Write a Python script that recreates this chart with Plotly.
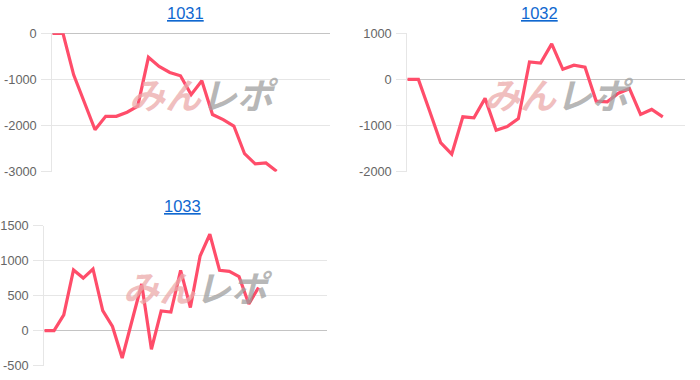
import plotly.graph_objects as go

# ---------------- data ----------------
titles = ["1031", "1032", "1033"]

days_1031 = ["1", "2", "3", "4", "5", "6", "7", "8", "9", "10", "11", "12", "13", "14",
             "15", "16", "17", "18", "19", "20", "21", "22", "23", "24", "25", "26", "27"]
days_1032 = ["1", "2", "3", "4", "5", "6", "7", "8", "9", "10", "11", "12", "13", "14",
             "15", "16", "17", "18", "19", "20", "21", "22", "23", "24", "25", "26"]
days_1033 = ["1", "2", "3", "4", "5", "6", "7", "8", "9", "10", "11", "12", "13", "14",
             "15", "16", "17", "18", "19", "20", "21", "22", "23", "24", "25", "26",
             "27", "28", "29", "30"]

values_1031 = [0, 0, -900, -1500, -2090, -1800, -1800, -1710, -1580, -520, -720,
               -850, -920, -1330, -1030, -1760, -1870, -2010, -2610, -2830, -2810, -2990]
values_1032 = [0, 0, -680, -1370, -1620, -810, -830, -410, -1100, -1020, -850, 380,
               355, 770, 220, 310, 265, -470, -485, -300, -200, -760, -650, -810]
values_1033 = [0, 0, 225, 865, 750, 880, 285, 60, -390, 140, 665, -265, 280, 265,
               860, 330, 1065, 1375, 860, 845, 770, 380, 615]

ticks_1031 = [0, -1000, -2000, -3000]
ticks_1032 = [1000, 0, -1000, -2000]
ticks_1033 = [1500, 1000, 500, 0, -500]

watermark_a = "みん"
watermark_b = "レポ"

# ---------------- style ----------------
LINE = "rgb(255,77,106)"
GRID = "#e6e6e6"
ZERO = "#c4c4c4"
TICKC = "#666666"
TITLEC = "#1068d0"
FONT = "Liberation Sans, Arial, Helvetica, sans-serif"

W, H = 700, 380

panels = [
    # (days, values, ticks, xdomain px, ydomain px(top,bottom), title x px, title y px)
    (days_1031, values_1031, ticks_1031, (52.3, 330.0), (33.3, 171.7), 185, 13),
    (days_1032, values_1032, ticks_1032, (407.3, 685.0), (33.3, 171.7), 539, 13),
    (days_1033, values_1033, ticks_1033, (44.3, 326.7), (225.5, 365.7), 182, 206),
]

fig = go.Figure()
annotations = []
layout_axes = {}

for i, (days, vals, ticks, xd, yd, tx, ty) in enumerate(panels):
    n = i + 1
    xa = "x" if n == 1 else f"x{n}"
    ya = "y" if n == 1 else f"y{n}"
    fig.add_trace(go.Scatter(
        x=days[:len(vals)], y=vals, mode="lines",
        line=dict(color=LINE, width=3.2),
        xaxis=xa, yaxis=ya, hoverinfo="x+y", showlegend=False,
    ))
    xkey = "xaxis" if n == 1 else f"xaxis{n}"
    ykey = "yaxis" if n == 1 else f"yaxis{n}"
    layout_axes[xkey] = dict(
        domain=[xd[0] / W, xd[1] / W],
        type="category", categoryorder="array", categoryarray=days,
        range=[0, len(days) - 1],
        showgrid=False, zeroline=False, showticklabels=False,
        showline=False, ticks="", anchor=ya, fixedrange=True,
        automargin=False,
    )
    layout_axes[ykey] = dict(
        domain=[1 - yd[1] / H, 1 - yd[0] / H],
        range=[min(ticks), max(ticks)],
        tickvals=ticks, ticktext=[str(t) for t in ticks],
        showgrid=True, gridcolor=GRID, gridwidth=1,
        zeroline=True, zerolinecolor=ZERO, zerolinewidth=1,
        showline=True, linecolor=GRID, linewidth=1,
        ticks="outside", ticklen=10, tickcolor=GRID, tickwidth=1,
        ticklabelstandoff=2,
        tickfont=dict(family=FONT, size=12.8, color=TICKC),
        anchor=xa, fixedrange=True, automargin=False,
    )
    # title
    annotations.append(dict(
        text=f"<u>{titles[i]}</u>", x=tx / W, y=1 - ty / H, xref="paper", yref="paper",
        xanchor="center", yanchor="middle", showarrow=False,
        font=dict(family=FONT, size=16.5, color=TITLEC),
    ))
    # watermark
    annotations.append(dict(
        text=(f"<b><i><span style='color:rgba(236,170,170,0.75)'>{watermark_a}</span>"
              f"<span style='color:rgba(160,160,160,0.75)'>{watermark_b}</span></i></b>"),
        x=0.545, y=0.57, xref=f"{xa} domain", yref=f"{ya} domain",
        xanchor="center", yanchor="middle", showarrow=False,
        font=dict(family="Noto Sans CJK JP", size=36),
    ))

fig.update_layout(
    width=W, height=H,
    margin=dict(l=0, r=0, t=0, b=0, autoexpand=False),
    paper_bgcolor="white", plot_bgcolor="white",
    showlegend=False,
    annotations=annotations,
    **layout_axes,
)

fig.write_html("out.html")
